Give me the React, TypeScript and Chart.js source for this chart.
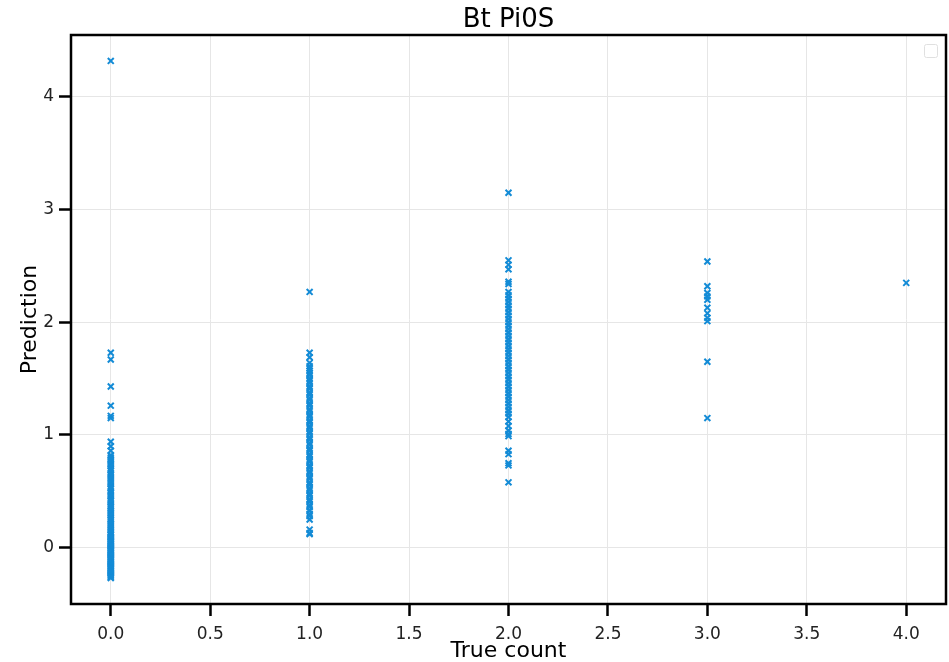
import React, { useEffect, useRef } from "react";
import { Chart, registerables } from "chart.js";

Chart.register(...registerables);

const TITLE = "Bt Pi0S";
const X_LABEL = "True count";
const Y_LABEL = "Prediction";

const xTicks = [0, 0.5, 1, 1.5, 2, 2.5, 3, 3.5, 4];
const yTicks = [0, 1, 2, 3, 4];

// predictions for true count = 0
const pred0 = [
  4.32, 1.73, 1.67, 1.43, 1.26, 1.17, 1.15, 0.94, 0.9, 0.86, 0.82, 0.8, 0.785, 0.77, 0.75, 0.735,
  0.72, 0.7, 0.685, 0.66, 0.645, 0.63, 0.61, 0.59, 0.575, 0.56, 0.54, 0.525, 0.5, 0.485, 0.47,
  0.455, 0.43, 0.415, 0.4, 0.38, 0.365, 0.35, 0.33, 0.315, 0.3, 0.285, 0.265, 0.25, 0.235, 0.215,
  0.2, 0.185, 0.17, 0.155, 0.14, 0.125, 0.115, 0.1, 0.09, 0.08, 0.07, 0.06, 0.05, 0.04, 0.03,
  0.02, 0.01, 0.0, -0.01, -0.02, -0.03, -0.04, -0.05, -0.06, -0.07, -0.08, -0.09, -0.1, -0.11,
  -0.12, -0.13, -0.14, -0.15, -0.16, -0.17, -0.18, -0.19, -0.2, -0.21, -0.22, -0.23, -0.24,
  -0.25, -0.26, -0.27,
];

// predictions for true count = 1
const pred1 = [
  2.27, 1.73, 1.69, 1.64, 1.61, 1.59, 1.57, 1.55, 1.53, 1.5, 1.48, 1.46, 1.43, 1.41, 1.38, 1.36,
  1.33, 1.31, 1.28, 1.26, 1.23, 1.21, 1.18, 1.16, 1.13, 1.11, 1.08, 1.06, 1.03, 1.01, 0.98, 0.96,
  0.93, 0.91, 0.88, 0.86, 0.83, 0.81, 0.78, 0.76, 0.73, 0.71, 0.68, 0.66, 0.63, 0.61, 0.58, 0.56,
  0.53, 0.51, 0.48, 0.46, 0.43, 0.41, 0.38, 0.36, 0.33, 0.3, 0.28, 0.25, 0.16, 0.13, 0.12,
];

// predictions for true count = 2
const pred2 = [
  3.15, 2.55, 2.51, 2.47, 2.36, 2.34, 2.27, 2.24, 2.21, 2.18, 2.15, 2.12, 2.09, 2.06, 2.03, 2.0,
  1.97, 1.94, 1.91, 1.88, 1.85, 1.82, 1.79, 1.76, 1.73, 1.7, 1.67, 1.64, 1.61, 1.58, 1.55, 1.52,
  1.49, 1.46, 1.43, 1.4, 1.37, 1.34, 1.31, 1.28, 1.25, 1.22, 1.19, 1.16, 1.12, 1.08, 1.04, 1.01,
  0.99, 0.86, 0.83, 0.75, 0.73, 0.58,
];

// predictions for true count = 3
const pred3 = [2.54, 2.32, 2.26, 2.23, 2.2, 2.13, 2.08, 2.04, 2.01, 1.65, 1.15];

// predictions for true count = 4
const pred4 = [2.35];

const trueCounts = [0, 1, 2, 3, 4];
const predictions = [pred0, pred1, pred2, pred3, pred4];

const POINT_COLOR = "#138bd6";
const FONT = "DejaVu Sans";

const framePlugin = {
  id: "frame",
  afterDraw(chart: any) {
    const { ctx, chartArea } = chart;
    const { left, right, top, bottom } = chartArea;
    ctx.save();
    ctx.strokeStyle = "#000";
    ctx.lineWidth = 2.5;
    ctx.strokeRect(left, top, right - left, bottom - top);
    // empty legend box
    ctx.strokeStyle = "#e0e0e0";
    ctx.lineWidth = 1;
    ctx.beginPath();
    const bx = right - 21.5;
    const by = top + 9.5;
    if ((ctx as any).roundRect) {
      (ctx as any).roundRect(bx, by, 13, 13, 2);
    } else {
      ctx.rect(bx, by, 13, 13);
    }
    ctx.stroke();
    // title centred over the plot area
    ctx.fillStyle = "#000";
    ctx.font = `26px "${FONT}"`;
    ctx.textAlign = "center";
    ctx.textBaseline = "alphabetic";
    ctx.fillText(TITLE, (left + right) / 2, 27);
    ctx.restore();
  },
};

export default function App() {
  const ref = useRef<HTMLCanvasElement | null>(null);

  useEffect(() => {
    if (!ref.current) return;
    const data: { x: number; y: number }[] = [];
    trueCounts.forEach((tc, i) => {
      predictions[i].forEach((p) => data.push({ x: tc, y: p }));
    });

    const tickFont = { family: FONT, size: 17 };
    const titleFont = { family: FONT, size: 22 };
    const grid = {
      color: "#e6e6e6",
      lineWidth: 1,
      drawTicks: true,
      tickColor: "#000",
      tickWidth: 2.5,
      tickLength: 12,
    };

    const chart = new Chart(ref.current, {
      type: "scatter",
      data: {
        datasets: [
          {
            data,
            pointStyle: "crossRot",
            pointRadius: 4.2,
            pointBorderWidth: 2,
            borderColor: POINT_COLOR,
            backgroundColor: POINT_COLOR,
          },
        ],
      },
      options: {
        animation: false,
        responsive: true,
        maintainAspectRatio: false,
        layout: { autoPadding: false, padding: { top: 35, right: 3, left: 0, bottom: 0 } },
        plugins: {
          legend: { display: false },
          tooltip: { enabled: false },
          title: { display: false },
        },
        scales: {
          x: {
            type: "linear",
            min: -0.2,
            max: 4.2,
            afterFit: (s: any) => {
              s.height = 58;
              s.paddingLeft = 0;
              s.paddingRight = 0;
            },
            afterBuildTicks: (s: any) => {
              s.ticks = xTicks.map((v) => ({ value: v }));
            },
            border: { display: false },
            grid,
            ticks: {
              color: "#222",
              font: tickFont,
              padding: 8,
              maxRotation: 0,
              callback: (v: any) => Number(v).toFixed(1),
            },
            title: {
              display: true,
              text: X_LABEL,
              color: "#000",
              font: { ...titleFont, lineHeight: 1.0 },
              padding: { top: 0, bottom: 0 },
            },
          },
          y: {
            type: "linear",
            min: -0.5,
            max: 4.55,
            afterFit: (s: any) => {
              s.width = 71;
              s.paddingTop = 0;
              s.paddingBottom = 0;
            },
            afterBuildTicks: (s: any) => {
              s.ticks = yTicks.map((v) => ({ value: v }));
            },
            border: { display: false },
            grid,
            ticks: {
              color: "#222",
              font: tickFont,
              padding: 5,
              callback: (v: any) => String(Math.round(Number(v))),
            },
            title: {
              display: true,
              text: Y_LABEL,
              color: "#000",
              font: titleFont,
              padding: { top: 17, bottom: 0 },
            },
          },
        },
      },
      plugins: [framePlugin],
    });
    return () => chart.destroy();
  }, []);

  return (
    <div style={{ position: "absolute", left: 0, top: 0, width: 949, height: 662, background: "#fff" }}>
      <canvas ref={ref} />
    </div>
  );
}
